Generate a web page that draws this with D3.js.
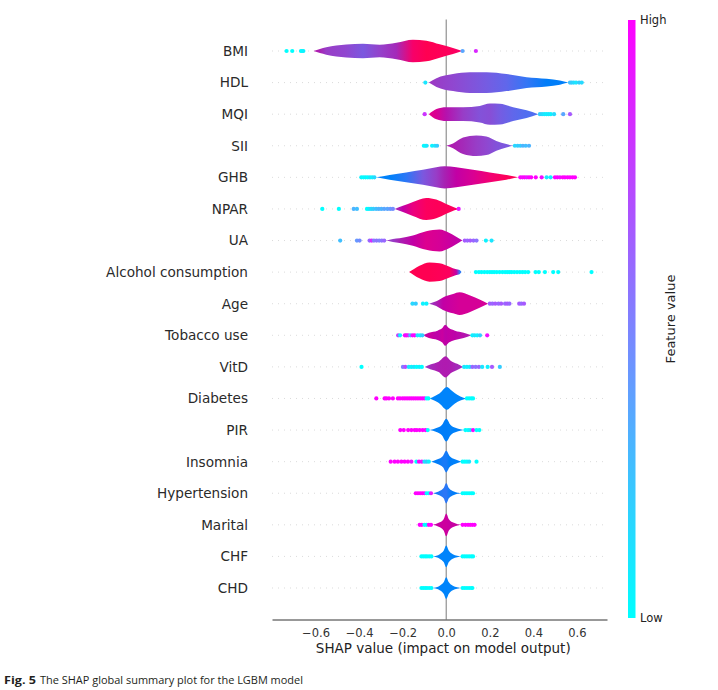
<!DOCTYPE html>
<html>
<head>
<meta charset="utf-8">
<script src="https://cdn.jsdelivr.net/npm/d3@7"></script>
<style>
  body { margin: 0; background: #fff; }
  svg { display: block; }
</style>
</head>
<body>
<svg id="chart" width="718" height="690"></svg>
<script>
// features, top to bottom
const features = ["BMI", "HDL", "MQI", "SII", "GHB", "NPAR", "UA", "Alcohol consumption", "Age",
  "Tobacco use", "VitD", "Diabetes", "PIR", "Insomnia", "Hypertension", "Marital", "CHF", "CHD"];

// violin outline: shap value samples, relative density (half width), mean feature value (0 low .. 1 high)
const violinShap = [
  [-0.609, -0.58, -0.551, -0.459, -0.382, -0.306, -0.229, -0.153, -0.091, -0.03, 0.031, 0.074],
  [-0.08, -0.045, 0.031, 0.108, 0.185, 0.277, 0.369, 0.461, 0.522, 0.56],
  [-0.08, -0.045, 0.0, 0.077, 0.154, 0.2, 0.246, 0.307, 0.369, 0.422],
  [0.0, 0.031, 0.077, 0.138, 0.184, 0.23, 0.276, 0.307],
  [-0.321, -0.26, -0.184, -0.107, -0.046, -0.008, 0.046, 0.123, 0.2, 0.276, 0.33],
  [-0.237, -0.199, -0.153, -0.092, -0.046, 0.0, 0.038, 0.057],
  [-0.275, -0.245, -0.214, -0.153, -0.092, -0.031, 0.015, 0.061, 0.074],
  [-0.171, -0.148, -0.123, -0.077, -0.031, 0.015, 0.046, 0.061, 0.07],
  [-0.079, -0.046, -0.015, 0.031, 0.061, 0.107, 0.153, 0.192],
  [-0.107, -0.08, -0.04, -0.018, -0.005, 0.012, 0.04, 0.08, 0.116],
  [-0.099, -0.07, -0.035, -0.003, 0.02, 0.05, 0.077],
  [-0.076, -0.05, -0.025, -0.01, 0.003, 0.02, 0.04, 0.065, 0.093],
  [-0.076, -0.045, -0.02, 0.0, 0.02, 0.045, 0.085],
  [-0.069, -0.04, -0.015, 0.0, 0.015, 0.04, 0.07],
  [-0.06, -0.035, -0.012, 0.0, 0.012, 0.035, 0.07],
  [-0.061, -0.035, -0.012, 0.0, 0.012, 0.035, 0.07],
  [-0.061, -0.03, -0.012, 0.0, 0.012, 0.03, 0.07],
  [-0.061, -0.03, -0.012, 0.0, 0.012, 0.03, 0.07]
];
const violinDensity = [
  [0, 0.18, 0.32, 0.57, 0.64, 0.55, 0.73, 1, 0.91, 0.59, 0.27, 0],
  [0, 0.39, 0.75, 0.91, 0.91, 0.75, 0.48, 0.34, 0.18, 0],
  [0, 0.45, 0.61, 0.61, 0.73, 0.94, 0.91, 0.61, 0.34, 0],
  [0, 0.21, 0.73, 0.91, 0.82, 0.43, 0.15, 0],
  [0, 0.21, 0.43, 0.66, 0.88, 0.97, 0.88, 0.66, 0.43, 0.21, 0],
  [0, 0.27, 0.61, 0.97, 0.82, 0.43, 0.12, 0],
  [0, 0.14, 0.21, 0.45, 0.82, 0.97, 0.66, 0.15, 0],
  [0, 0.27, 0.55, 0.85, 0.79, 0.48, 0.25, 0.18, 0],
  [0, 0.21, 0.55, 0.85, 1, 0.75, 0.36, 0],
  [0, 0.23, 0.41, 0.64, 0.93, 0.64, 0.41, 0.23, 0],
  [0, 0.23, 0.45, 0.93, 0.55, 0.27, 0],
  [0, 0.23, 0.55, 0.86, 1, 0.77, 0.45, 0.18, 0],
  [0, 0.18, 0.45, 1, 0.45, 0.18, 0],
  [0, 0.2, 0.5, 0.95, 0.5, 0.2, 0],
  [0, 0.15, 0.45, 0.9, 0.45, 0.15, 0],
  [0, 0.18, 0.5, 1, 0.5, 0.18, 0],
  [0, 0.2, 0.5, 0.95, 0.5, 0.2, 0],
  [0, 0.2, 0.5, 0.95, 0.5, 0.2, 0]
];
const violinValue = [
  [0.55, 0.5, 0.42, 0.38, 0.3, 0.4, 0.48, 0.9, 1, 0.98, 0.95, 0.9],
  [0.45, 0.42, 0.38, 0.33, 0.28, 0.22, 0.13, 0.08, 0.07, 0.07],
  [0.75, 0.7, 0.55, 0.42, 0.33, 0.35, 0.28, 0.22, 0.18, 0.18],
  [0.52, 0.52, 0.48, 0.42, 0.38, 0.33, 0.3, 0.3],
  [0.05, 0.05, 0.12, 0.3, 0.42, 0.5, 0.6, 0.7, 0.85, 0.97, 1],
  [0.45, 0.6, 0.8, 0.95, 0.97, 0.97, 0.95, 0.95],
  [0.42, 0.42, 0.5, 0.6, 0.72, 0.68, 0.63, 0.58, 0.58],
  [1, 1, 1, 1, 0.98, 0.95, 0.6, 0.15, 0.1],
  [0.42, 0.5, 0.6, 0.65, 0.68, 0.68, 0.68, 0.68],
  [0.58, 0.63, 0.58, 0.63, 0.58, 0.6, 0.58, 0.55, 0.5],
  [0.42, 0.48, 0.52, 0.53, 0.52, 0.48, 0.48],
  [0.03, 0.03, 0.03, 0.03, 0.03, 0.03, 0.03, 0.03, 0.03],
  [0.05, 0.06, 0.08, 0.08, 0.06, 0.05, 0.05],
  [0.05, 0.08, 0.1, 0.1, 0.08, 0.05, 0.05],
  [0.08, 0.1, 0.12, 0.12, 0.1, 0.08, 0.08],
  [0.62, 0.62, 0.64, 0.64, 0.62, 0.62, 0.62],
  [0.03, 0.03, 0.03, 0.03, 0.03, 0.03, 0.03],
  [0.03, 0.03, 0.03, 0.03, 0.03, 0.03, 0.03]
];

// individual points drawn outside the violins: [shap value, feature value]
const dotPoints = [
  [[-0.733, 0], [-0.707, 0], [-0.667, 0.05], [-0.662, 0], [-0.656, 0.05], [0.075, 0.35], [0.136, 0.85]],
  [[-0.096, 0.1], [0.568, 0.25], [0.576, 0.2], [0.585, 0.15], [0.596, 0.1], [0.61, 0.2], [0.622, 0.15]],
  [[-0.099, 0.8], [0.43, 0.2], [0.44, 0.15], [0.45, 0.1], [0.46, 0.05], [0.47, 0.1], [0.48, 0.05], [0.495, 0.15], [0.537, 0.35], [0.568, 0.65]],
  [[-0.103, 0.05], [-0.097, 0], [-0.09, 0.1], [-0.065, 0.05], [-0.052, 0.1], [-0.042, 0.2], [0.315, 0.15], [0.328, 0.2], [0.34, 0.2], [0.352, 0.3], [0.365, 0.25], [0.38, 0.3]],
  [[-0.39, 0.05], [-0.38, 0], [-0.37, 0.05], [-0.36, 0], [-0.35, 0.1], [-0.34, 0.05], [-0.33, 0.15],
   [0.34, 1], [0.35, 0.95], [0.36, 1], [0.37, 0.9], [0.38, 1], [0.39, 1], [0.411, 1], [0.438, 0.95], [0.461, 0.1], [0.479, 0.05],
   [0.499, 1], [0.51, 1], [0.522, 0.95], [0.535, 1], [0.545, 1], [0.557, 1], [0.568, 1], [0.58, 1], [0.591, 1]],
  [[-0.569, 0], [-0.493, 0], [-0.425, 0.3], [-0.41, 0.25], [-0.364, 0], [-0.355, 0.05], [-0.345, 0.15], [-0.335, 0.2], [-0.322, 0.25],
   [-0.31, 0.3], [-0.298, 0.3], [-0.285, 0.35], [-0.27, 0.35], [-0.257, 0.4], [-0.245, 0.45], [0.057, 0.9]],
  [[-0.487, 0.25], [-0.41, 0.4], [-0.398, 0.45], [-0.352, 0.6], [-0.342, 0.85], [-0.332, 0.5], [-0.32, 0.55], [-0.308, 0.5], [-0.296, 0.55],
   [-0.285, 0.6], [0.085, 0.65], [0.097, 0.6], [0.11, 0.65], [0.125, 0.6], [0.139, 0.55], [0.182, 0.05], [0.208, 0.1]],
  [[0.136, 0], [0.15, 0], [0.162, 0], [0.175, 0], [0.188, 0], [0.2, 0], [0.21, 0], [0.22, 0], [0.232, 0], [0.245, 0], [0.258, 0],
   [0.27, 0], [0.28, 0], [0.29, 0], [0.3, 0], [0.312, 0], [0.325, 0], [0.338, 0], [0.35, 0], [0.362, 0], [0.376, 0],
   [0.41, 0], [0.425, 0], [0.453, 0], [0.491, 0], [0.514, 0], [0.667, 0]],
  [[-0.155, 0.15], [-0.14, 0.2], [-0.107, 0.05], [-0.091, 0.05], [0.2, 0.65], [0.212, 0.6], [0.225, 0.65], [0.24, 0.6], [0.252, 0.65],
   [0.27, 0.6], [0.28, 0.65], [0.29, 0.6], [0.335, 0.65], [0.345, 0.6], [0.357, 0.65]],
  [[-0.221, 0.75], [-0.212, 0.05], [-0.19, 0.95], [-0.183, 1], [-0.175, 0.9], [-0.165, 0.3], [-0.155, 0.95], [-0.145, 1], [-0.132, 0.1],
   [-0.12, 0.05], [-0.11, 0.2], [0.12, 0.05], [0.13, 0.1], [0.142, 0.05], [0.155, 0.2], [0.188, 0.95]],
  [[-0.389, 0], [-0.199, 0.5], [-0.188, 0.7], [-0.172, 0.1], [-0.16, 0.05], [-0.148, 0.1], [-0.136, 0], [-0.124, 0.05], [-0.112, 0],
   [0.082, 0.1], [0.095, 0.05], [0.108, 0.1], [0.12, 0.6], [0.135, 0.55], [0.15, 0.6], [0.165, 0.1], [0.19, 0.05], [0.21, 0.65], [0.246, 0.2]],
  [[-0.321, 1], [-0.283, 1], [-0.275, 1], [-0.263, 1], [-0.245, 1], [-0.222, 1], [-0.212, 1], [-0.2, 1], [-0.19, 1], [-0.18, 1], [-0.17, 1],
   [-0.16, 1], [-0.15, 1], [-0.14, 1], [-0.13, 1], [-0.12, 1], [-0.11, 1], [-0.1, 1], [-0.09, 0], [-0.082, 0],
   [0.095, 0], [0.105, 0], [0.115, 0], [0.123, 0]],
  [[-0.211, 1], [-0.195, 1], [-0.175, 1], [-0.16, 1], [-0.145, 1], [-0.135, 1], [-0.122, 1], [-0.108, 1], [-0.095, 1], [-0.085, 0],
   [0.088, 0], [0.1, 0], [0.11, 0.1], [0.123, 1], [0.139, 0], [0.152, 0]],
  [[-0.255, 1], [-0.237, 1], [-0.222, 1], [-0.206, 1], [-0.191, 1], [-0.176, 1], [-0.16, 0.9], [-0.137, 0], [-0.125, 1], [-0.112, 0.9],
   [-0.1, 0.1], [-0.09, 0.2], [-0.08, 0.05], [0.075, 0], [0.085, 0], [0.095, 0], [0.105, 0.1], [0.139, 0]],
  [[-0.14, 1], [-0.13, 1], [-0.12, 1], [-0.11, 1], [-0.1, 1], [-0.09, 0], [-0.08, 0], [-0.07, 0.9],
   [0.075, 0], [0.085, 0], [0.095, 0], [0.105, 0], [0.115, 0], [0.123, 0]],
  [[-0.122, 1], [-0.112, 1], [-0.1, 0], [-0.09, 0], [-0.08, 1], [-0.07, 1],
   [0.075, 1], [0.088, 1], [0.1, 1], [0.11, 1], [0.12, 1], [0.13, 1]],
  [[-0.114, 0], [-0.105, 0], [-0.096, 0], [-0.088, 0], [-0.078, 0], [-0.068, 0],
   [0.075, 0], [0.085, 0], [0.095, 0], [0.105, 0], [0.115, 0], [0.123, 0]],
  [[-0.114, 0], [-0.105, 0], [-0.096, 0], [-0.088, 0], [-0.078, 0], [-0.068, 0],
   [0.075, 0], [0.085, 0], [0.095, 0], [0.105, 0], [0.115, 0], [0.12, 0]]
];

const xTicks = [-0.6, -0.4, -0.2, 0.0, 0.2, 0.4, 0.6];

// layout
const plot = { left: 272, right: 607, top: 19.5, bottom: 619.5 };
const svg = d3.select("#chart");

const x = d3.scaleLinear().domain([-0.8, 0.738]).range([plot.left, plot.right]);
const y = d3.scalePoint().domain(features).range([51, 588]);
const half = d3.scaleLinear().domain([0, 1]).range([0, y.step() * 0.36]);

// shap red_blue for violin fill (lch path blue -> purple -> red)
function redBlue(t) {
  t = Math.max(0, Math.min(1, t));
  const l = t < 0.5 ? 54 - 24 * t : 30 + 24 * t;
  return d3.hcl(266.9 + 113.4 * t, 70 + 20 * t, l).formatHex();
}
// matplotlib "cool" for points and colorbar
const cool = d3.scaleSequential(d3.interpolateRgb("#00ffff", "#ff00ff")).domain([0, 1]);

const defs = svg.append("defs");

// row grid lines (dotted)
svg.append("g")
  .selectAll("line")
  .data(features)
  .join("line")
  .attr("x1", plot.left).attr("x2", plot.right)
  .attr("y1", d => y(d)).attr("y2", d => y(d))
  .attr("stroke", "#cccccc")
  .attr("stroke-width", 0.7)
  .attr("stroke-dasharray", "1,5");

// zero line
svg.append("line")
  .attr("x1", x(0)).attr("x2", x(0))
  .attr("y1", plot.top).attr("y2", plot.bottom)
  .attr("stroke", "#999999")
  .attr("stroke-width", 1.3);

// violins
const area = d3.area()
  .x(d => x(d[0]))
  .y0(d => d[2] - half(d[1]))
  .y1(d => d[2] + half(d[1]))
  .curve(d3.curveMonotoneX);

features.forEach(function(f, i) {
  const s = violinShap[i];
  const x1 = x(s[0]), x2 = x(s[s.length - 1]);
  const grad = defs.append("linearGradient")
    .attr("id", "vg" + i)
    .attr("gradientUnits", "userSpaceOnUse")
    .attr("x1", x1).attr("x2", x2)
    .attr("y1", 0).attr("y2", 0);
  grad.selectAll("stop")
    .data(s)
    .join("stop")
    .attr("offset", d => (x(d) - x1) / (x2 - x1))
    .attr("stop-color", (d, j) => redBlue(violinValue[i][j]));

  const pts = s.map((v, j) => [v, violinDensity[i][j], y(f)]);
  svg.append("path")
    .attr("d", area(pts))
    .attr("fill", "url(#vg" + i + ")");
});

// points
const dotG = svg.append("g");
features.forEach(function(f, i) {
  dotG.selectAll(null)
    .data(dotPoints[i])
    .join("circle")
    .attr("cx", d => x(d[0]))
    .attr("cy", y(f))
    .attr("r", 2.1)
    .attr("fill", d => cool(d[1]));
});

// x axis
const xAxis = d3.axisBottom(x)
  .tickValues(xTicks)
  .tickSize(0)
  .tickPadding(9)
  .tickFormat(d => d3.format(".1f")(d).replace("-", "\u2212"));
const ax = svg.append("g")
  .attr("transform", "translate(0," + plot.bottom + ")")
  .call(xAxis);
ax.select(".domain").attr("stroke", "#333333").attr("stroke-width", 1);
ax.selectAll("text")
  .attr("fill", "#333333")
  .style("font-family", "DejaVu Sans")
  .style("font-size", "11.5px");

svg.append("text")
  .attr("x", x(0) - 3)
  .attr("y", 653)
  .attr("text-anchor", "middle")
  .attr("fill", "#222")
  .style("font-family", "DejaVu Sans")
  .style("font-size", "13.5px")
  .text("SHAP value (impact on model output)");

// feature labels
svg.append("g")
  .selectAll("text")
  .data(features)
  .join("text")
  .attr("x", 248)
  .attr("y", d => y(d))
  .attr("dy", "0.36em")
  .attr("text-anchor", "end")
  .attr("fill", "#2a2a2a")
  .style("font-family", "DejaVu Sans")
  .style("font-size", "13.6px")
  .text(d => d);

// colorbar
const cbY = d3.scaleLinear().domain([0, 1]).range([618, 20]);
const cbGrad = defs.append("linearGradient")
  .attr("id", "cb")
  .attr("x1", 0).attr("x2", 0).attr("y1", 1).attr("y2", 0);
cbGrad.selectAll("stop")
  .data([0, 0.25, 0.5, 0.75, 1])
  .join("stop")
  .attr("offset", d => d)
  .attr("stop-color", d => cool(d));
svg.append("rect")
  .attr("x", 628)
  .attr("y", cbY(1))
  .attr("width", 7.5)
  .attr("height", cbY(0) - cbY(1))
  .attr("fill", "url(#cb)");

svg.append("text")
  .attr("x", 640).attr("y", cbY(1)).attr("dy", "0.35em")
  .attr("fill", "#222")
  .style("font-family", "DejaVu Sans").style("font-size", "11.5px")
  .text("High");
svg.append("text")
  .attr("x", 640).attr("y", cbY(0)).attr("dy", "0.35em")
  .attr("fill", "#222")
  .style("font-family", "DejaVu Sans").style("font-size", "11.5px")
  .text("Low");
svg.append("text")
  .attr("transform", "translate(675," + cbY(0.5) + ") rotate(-90)")
  .attr("text-anchor", "middle")
  .attr("fill", "#222")
  .style("font-family", "DejaVu Sans").style("font-size", "13px")
  .text("Feature value");

// caption
svg.append("text")
  .attr("x", 4).attr("y", 684)
  .attr("fill", "#231f20")
  .attr("font-weight", "bold")
  .attr("textLength", 32)
  .attr("lengthAdjust", "spacingAndGlyphs")
  .style("font-family", "Open Sans")
  .style("font-size", "11px")
  .text("Fig. 5");
svg.append("text")
  .attr("x", 40).attr("y", 684)
  .attr("fill", "#231f20")
  .attr("textLength", 263)
  .attr("lengthAdjust", "spacingAndGlyphs")
  .style("font-family", "Open Sans")
  .style("font-size", "11px")
  .text("The SHAP global summary plot for the LGBM model");
</script>
</body>
</html>
